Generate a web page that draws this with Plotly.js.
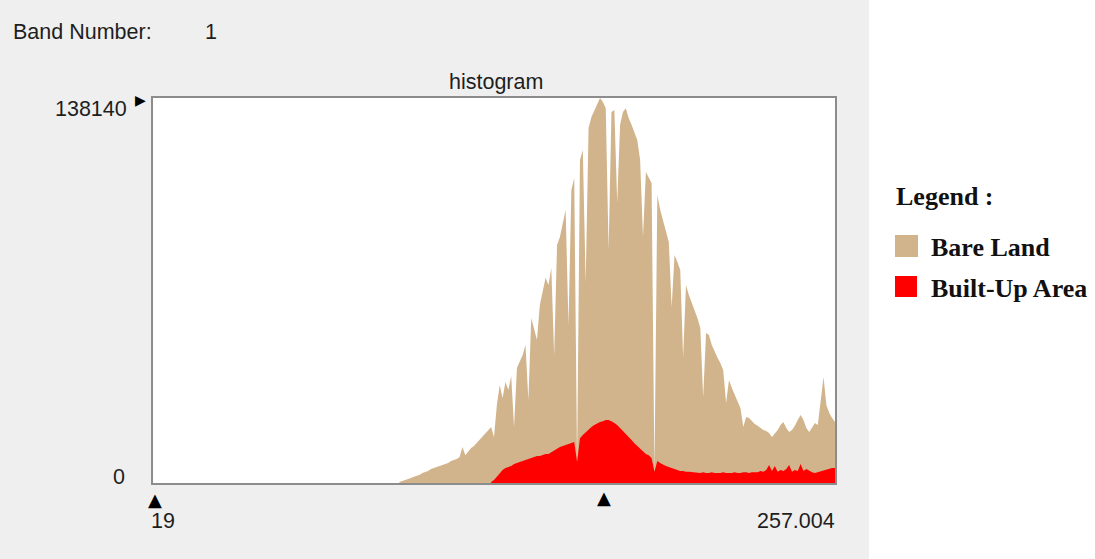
<!DOCTYPE html>
<html>
<head>
<meta charset="utf-8">
<script src="https://cdn.plot.ly/plotly-3.0.1.min.js"></script>
<style>
  html, body { margin: 0; padding: 0; background: #ffffff; }
  #chart { width: 1095px; height: 559px; }
</style>
</head>
<body>
<div id="chart"></div>
<script>
// ---- Data ----
const axisMin = 19;
const axisMax = 257.004;
const yMax = 138140;
const xTickLabels = ["19", "257.004"];
const yTickLabels = ["138140", "0"];
const seriesNames = ["Bare Land", "Built-Up Area"];
const seriesColors = ["#d2b48c", "#ff0000"];

// Bare Land: one value per grey level starting at 105
const bareLandStart = 105;
const bareLandCounts = [
  400, 700, 1100, 1400, 1800, 2200, 2500, 2900, 3600, 3900,          // 105-114
  4300, 5000, 5400, 5700, 6100, 6500, 6800, 7200, 7900, 8300,        // 115-124
  8600, 9300, 12900, 10000, 11100, 12600, 13300, 14400, 15400, 16500, // 125-134
  17900, 19000, 20100, 16500, 28000, 35200, 30500, 36200, 33400, 38400, // 135-144
  20100, 41300, 43400, 45900, 49500, 29800, 59200, 55600, 51300, 63900, // 145-154
  68500, 73600, 71000, 77100, 45900, 85400, 88300, 92600, 98000, 56700, // 155-164
  105100, 109400, 7500, 115900, 119500, 71800, 127400, 131300, 133800, 136000, // 165-174
  138140, 136700, 134500, 83600, 133100, 133800, 100500, 128500, 133100, 134500, // 175-184
  131000, 128500, 125600, 123100, 115900, 88300, 111600, 109400, 107600, 4000, // 185-194
  103300, 98000, 94400, 90100, 86500, 63100, 81800, 79300, 76400, 45200, // 195-204
  71000, 67500, 64900, 62100, 59200, 55600, 30900, 53800, 53100, 49500, // 205-214
  47000, 44900, 43100, 40500, 28700, 37000, 34100, 31600, 29100, 26900, // 215-224
  20100, 23700, 23300, 22200, 21200, 20500, 19700, 19000, 18700, 17900, // 225-234
  16500, 17600, 19000, 20800, 21900, 19700, 18300, 19000, 20500, 22600, // 235-244
  24400, 22600, 19700, 18300, 19700, 21500, 20800, 29800, 38000, 28000, // 245-254
  25100, 23300, 21900                                                   // 255-257
];

// Built-Up Area: one value per grey level starting at 137
const builtUpStart = 137;
const builtUpCounts = [
  400, 1100, 2200, 3600, 4700, 5400, 5700, 6100, 6800, 7200,          // 137-146
  7500, 7900, 8300, 8600, 9000, 9300, 9700, 9700, 10000, 10400,       // 147-156
  10400, 11100, 11800, 12200, 12900, 13300, 13600, 14000, 14300, 14700, // 157-166
  7500, 16100, 17200, 18300, 19300, 20100, 20800, 21500, 21900, 22200, // 167-176
  22600, 22600, 22200, 21500, 20800, 19700, 18700, 17600, 16500, 15400, // 177-186
  14300, 13300, 12200, 11100, 10400, 10000, 9000, 4000, 7900, 7200,   // 187-196
  6500, 6100, 5700, 5400, 5000, 4700, 4300, 4300, 4000, 4000,         // 197-206
  3900, 3900, 3900, 3600, 3900, 3600, 3600, 3900, 3600, 3600,         // 207-216
  3600, 3900, 3600, 3600, 3600, 3900, 3600, 3600, 3900, 3900,         // 217-226
  3600, 3900, 4000, 3900, 4300, 4000, 4700, 6500, 4300, 6100,         // 227-236
  4000, 4700, 4300, 5000, 6500, 4000, 4700, 4300, 6800, 4300,         // 237-246
  5000, 4300, 3900, 3600, 3900, 4000, 4300, 4700, 5000, 5400,         // 247-256
  5400                                                                // 257
];
const meanMarkerValue = 176.4;

// ---- Build traces ----
function levels(start, n) { const a = []; for (let i = 0; i < n; i++) a.push(start + i); return a; }

const traces = [
  {
    type: "scatter", mode: "lines", name: seriesNames[0],
    x: levels(bareLandStart, bareLandCounts.length), y: bareLandCounts,
    fill: "tozeroy", fillcolor: seriesColors[0],
    line: { width: 0, color: seriesColors[0], shape: "linear" },
    hoverinfo: "x+y", showlegend: false
  },
  {
    type: "scatter", mode: "lines", name: seriesNames[1],
    x: levels(builtUpStart, builtUpCounts.length), y: builtUpCounts,
    fill: "tozeroy", fillcolor: seriesColors[1],
    line: { width: 0, color: seriesColors[1], shape: "linear" },
    hoverinfo: "x+y", showlegend: false
  }
];

// ---- Layout helpers (pixel -> paper) ----
const L = 153, R = 835, T = 98, B = 483;
const W = R - L, H = B - T;
const px = v => (v - L) / W;
const py = v => (B - v) / H;

const txtFont = { family: "Liberation Sans, Arial, sans-serif", size: 21.5, color: "#1e1e1e" };
const legFont = { family: "Liberation Serif, Times New Roman, serif", size: 26, color: "#111111" };
const triFont = { family: "DejaVu Sans", size: 18, color: "#000" };

function ann(text, x, y, xanchor, font, extra) {
  return Object.assign({ text, x: px(x), y: py(y), xref: "paper", yref: "paper",
    xanchor, yanchor: "middle", showarrow: false, font }, extra || {});
}

const annotations = [
  ann("Band Number:", 11, 32, "left", txtFont),
  ann("1", 203, 32, "left", txtFont),
  ann("histogram", 496, 82, "center", txtFont),
  ann(yTickLabels[0], 129, 109, "right", txtFont),
  ann(yTickLabels[1], 127, 477, "right", txtFont),
  ann(xTickLabels[0], 149, 521, "left", txtFont),
  ann(xTickLabels[1], 837, 521, "right", txtFont),
  ann("▶", 133, 100, "left", { family: "DejaVu Sans", size: 14, color: "#000" }),
  ann("▲", 155, 499, "center", triFont),
  { text: "▲", x: meanMarkerValue, y: py(497), xref: "x", yref: "paper", xanchor: "center",
    yanchor: "middle", showarrow: false, font: triFont },
  ann("<b>Legend :</b>", 894, 196, "left", legFont),
  ann("<b>" + seriesNames[0] + "</b>", 929, 247, "left", legFont),
  ann("<b>" + seriesNames[1] + "</b>", 929, 288, "left", legFont)
];

const shapes = [
  { type: "rect", xref: "paper", yref: "paper", layer: "below",
    x0: px(0), x1: px(869), y0: py(559), y1: py(0),
    fillcolor: "#efefef", line: { width: 0 } },
  { type: "rect", xref: "paper", yref: "paper", layer: "below",
    x0: 0, x1: 1, y0: 0, y1: 1, fillcolor: "#ffffff", line: { width: 0 } },
  { type: "rect", xref: "paper", yref: "paper",
    x0: px(895), x1: px(918), y0: py(257), y1: py(235),
    fillcolor: seriesColors[0], line: { width: 0 } },
  { type: "rect", xref: "paper", yref: "paper",
    x0: px(895), x1: px(917), y0: py(297), y1: py(276),
    fillcolor: seriesColors[1], line: { width: 0 } }
];

const layout = {
  width: 1095, height: 559,
  margin: { l: L, r: 1095 - R, t: T, b: 559 - B, pad: 0 },
  paper_bgcolor: "#ffffff",
  plot_bgcolor: "rgba(0,0,0,0)",
  showlegend: false,
  xaxis: {
    range: [axisMin, axisMax], showgrid: false, zeroline: false,
    showticklabels: false, ticks: "",
    showline: true, mirror: true, linecolor: "#8c8c8c", linewidth: 2
  },
  yaxis: {
    range: [0, yMax], showgrid: false, zeroline: false,
    showticklabels: false, ticks: "",
    showline: true, mirror: true, linecolor: "#8c8c8c", linewidth: 2
  },
  annotations, shapes
};

Plotly.newPlot("chart", traces, layout, { staticPlot: true, displayModeBar: false });
</script>
</body>
</html>
